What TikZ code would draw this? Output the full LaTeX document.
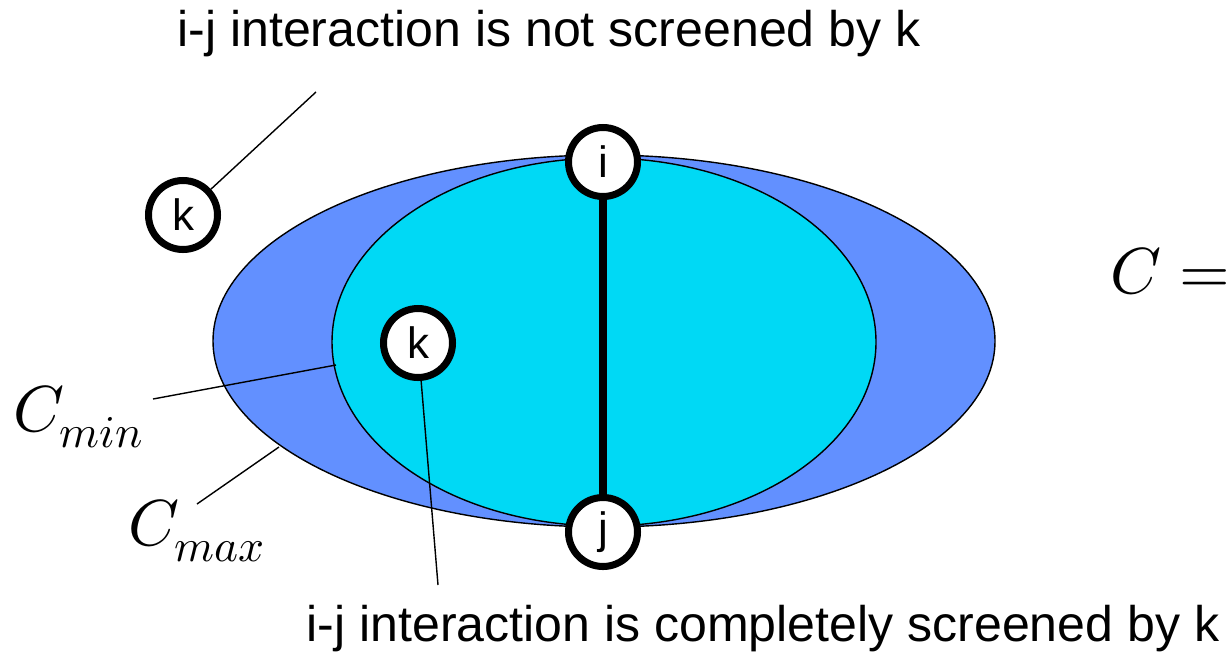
\documentclass[tikz,border=0pt]{standalone}
\usepackage{fontspec}
\setmainfont{Liberation Sans}
\usepackage{unicode-math}
\setmathfont{Latin Modern Math}
\definecolor{outerblue}{RGB}{98,144,255}
\definecolor{innercyan}{RGB}{0,217,245}
\begin{document}
\begin{tikzpicture}[x=0.02cm,y=-0.02cm,
  atom/.style={circle,draw=black,line width=4pt,fill=white,minimum size=1.38cm,inner sep=0pt,font=\fontsize{25}{30}\selectfont},
  lead/.style={line width=0.8pt},
  caption/.style={font=\fontsize{28.5}{34}\selectfont,anchor=base,inner sep=0pt},
  mathlbl/.style={font=\fontsize{37}{44}\selectfont,anchor=base west,inner sep=0pt}]
\useasboundingbox (0,0) rectangle (1229,653);
% ellipses
\draw[fill=outerblue,line width=0.8pt] (604,341) ellipse [x radius=391, y radius=186];
\draw[fill=innercyan,line width=0.8pt] (604,342) ellipse [x radius=272, y radius=184];
% atoms
\node[atom] (i) at (603,162) {i};
\node[atom] (j) at (603,532) {j};
\node[atom] (kout) at (183,215) {k};
\node[atom] (kin) at (418,343) {k};
\draw[line width=4.5pt] (i) -- (j);
% captions
\node[caption] (top) at (549,46) {i-j interaction is not screened by k};
\node[caption] (bot) at (763,641) {i-j interaction is completely screened by k};
\node[mathlbl] (cmin) at (13,431) {$C_{min}$};
\node[mathlbl] (cmax) at (128,545) {$C_{max}$};
\node[mathlbl] (ceq) at (1110,293) {$C =$};
% leader lines
\coordinate (t1) at (316,92);
\coordinate (m1) at (153,399);
\coordinate (m2) at (336,365);
\coordinate (x1) at (197,504);
\coordinate (x2) at (279,447);
\coordinate (b1) at (438,585);
\draw[lead] (kout) -- (t1);
\draw[lead] (m1) -- (m2);
\draw[lead] (x1) -- (x2);
\draw[lead] (kin) -- (b1);
\end{tikzpicture}
\end{document}
